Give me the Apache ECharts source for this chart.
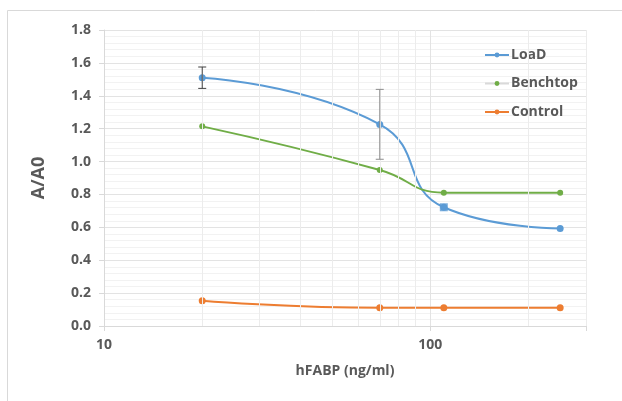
<!DOCTYPE html>
<html>
<head>
<meta charset="utf-8">
<script src="https://cdn.jsdelivr.net/npm/echarts@6/dist/echarts.min.js"></script>
<style>html,body{margin:0;padding:0;background:#fff;}#c{width:622px;height:401px;}</style>
</head>
<body>
<div id="c"></div>
<script>
const xValues = [20, 70, 110, 250];
const loadValues = [1.51, 1.226, 0.722, 0.593];
const benchtopValues = [1.214, 0.949, 0.811, 0.811];
const controlValues = [0.154, 0.111, 0.111, 0.111];
const loadErrLow = [1.445, 1.014];
const loadErrHigh = [1.575, 1.439];
const errX = [20, 70];
const minorGridX = [20, 30, 40, 50, 60, 70, 80, 90, 200, 300];
const seriesNames = ['LoaD', 'Benchtop', 'Control'];

const textColor = '#595959';
const chart = echarts.init(document.getElementById('c'), null, {renderer: 'canvas'});

function pairs(xs, ys) { return xs.map((x, i) => [x, ys[i]]); }

const errData = errX.map((x, i) => [x, loadErrLow[i], loadErrHigh[i]]);
const errColors = ['#404040', '#8c8c8c'];

chart.setOption({
  animation: false,
  graphic: [{
    type: 'rect', shape: {x: 7.5, y: 10.5, width: 630, height: 400},
    style: {fill: 'none', stroke: '#d9d9d9', lineWidth: 1}, silent: true, z: -1
  }],
  grid: {left: 104, right: 36, top: 30, bottom: 75},
  legend: {
    orient: 'vertical', left: 479, top: 43, itemGap: 14.5,
    itemWidth: 24, itemHeight: 6,
    textStyle: {color: textColor, fontSize: 14, fontWeight: 'bold', fontFamily: 'Open Sans', padding: [0, 0, 0, -3]},
    data: [
      {name: seriesNames[0]},
      {name: seriesNames[1], lineStyle: {color: '#d9d9d9'}},
      {name: seriesNames[2]}
    ]
  },
  xAxis: {
    type: 'log', logBase: 10, min: 10, max: 300,
    name: 'hFABP (ng/ml)', nameLocation: 'middle', nameGap: 38,
    nameTextStyle: {color: textColor, fontSize: 14, fontWeight: 'bold', fontFamily: 'Open Sans'},
    axisLine: {show: true, lineStyle: {color: '#d9d9d9'}},
    axisTick: {show: true, length: 5, lineStyle: {color: '#d9d9d9'}},
    axisLabel: {color: textColor, fontSize: 14, fontWeight: 'bold', fontFamily: 'Open Sans', margin: 12,
      formatter: v => (v === 10 || v === 100) ? String(v) : ''},
    splitLine: {show: true, lineStyle: {color: '#e3e3e3'}}
  },
  yAxis: {
    type: 'value', min: 0, max: 1.8, interval: 0.2,
    name: 'A/A0', nameLocation: 'middle', nameGap: 56, nameRotate: 90,
    nameTextStyle: {color: textColor, fontSize: 18, fontWeight: 'bold', fontFamily: 'Open Sans'},
    axisLine: {show: true, lineStyle: {color: '#d9d9d9'}},
    axisTick: {show: true, length: 5, inside: false, lineStyle: {color: '#d9d9d9'}},
    axisLabel: {color: textColor, fontSize: 14, fontWeight: 'bold', fontFamily: 'Open Sans', margin: 13,
      formatter: v => v.toFixed(1)},
    splitLine: {show: true, lineStyle: {color: '#e3e3e3'}},
    minorTick: {show: false, splitNumber: 5},
    minorSplitLine: {show: true, lineStyle: {color: '#f2f2f2'}}
  },
  series: [
    {
      name: seriesNames[0], type: 'line', smooth: 0.5, data: pairs(xValues, loadValues),
      symbol: 'circle', symbolSize: 7,
      itemStyle: {color: '#5B9BD5'}, lineStyle: {color: '#5B9BD5', width: 2}, z: 3,
      markLine: {
        silent: true, symbol: 'none', label: {show: false},
        lineStyle: {color: '#ececec', type: 'solid', width: 1},
        data: minorGridX.map(v => ({xAxis: v}))
      }
    },
    {
      name: 'LoaD-square', type: 'scatter', data: [[xValues[2], loadValues[2]]],
      symbol: 'rect', symbolSize: 8, itemStyle: {color: '#5B9BD5'}, z: 4, legendHoverLink: false
    },
    {
      name: seriesNames[1], type: 'line', smooth: 0.5, data: pairs(xValues, benchtopValues),
      symbol: 'circle', symbolSize: 6,
      itemStyle: {color: '#70AD47'}, lineStyle: {color: '#70AD47', width: 2}, z: 3
    },
    {
      name: seriesNames[2], type: 'line', smooth: 0.5, data: pairs(xValues, controlValues),
      symbol: 'circle', symbolSize: 7,
      itemStyle: {color: '#ED7D31'}, lineStyle: {color: '#ED7D31', width: 2}, z: 3
    },
    {
      name: 'err', type: 'custom', data: errData, z: 5, silent: true,
      renderItem: function (params, api) {
        const x = api.value(0);
        const lo = api.coord([x, api.value(1)]);
        const hi = api.coord([x, api.value(2)]);
        const c = errColors[params.dataIndex];
        const w = 4;
        return {
          type: 'group', children: [
            {type: 'line', shape: {x1: lo[0], y1: lo[1], x2: hi[0], y2: hi[1]}, style: {stroke: c, lineWidth: 1}},
            {type: 'line', shape: {x1: lo[0] - w, y1: lo[1], x2: lo[0] + w, y2: lo[1]}, style: {stroke: c, lineWidth: 1}},
            {type: 'line', shape: {x1: hi[0] - w, y1: hi[1], x2: hi[0] + w, y2: hi[1]}, style: {stroke: c, lineWidth: 1}}
          ]
        };
      }
    }
  ]
});
</script>
</body>
</html>
